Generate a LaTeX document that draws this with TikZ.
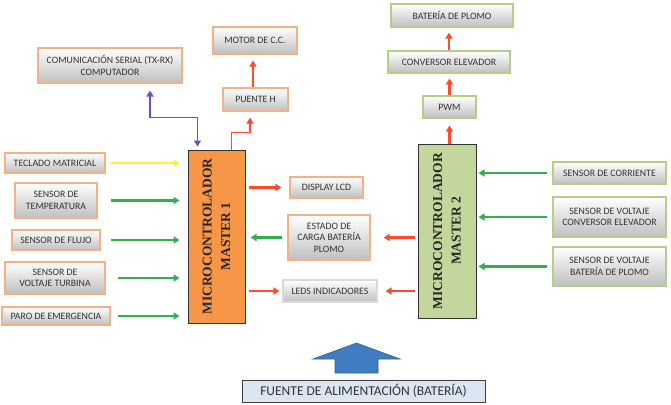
\documentclass[tikz,border=0pt]{standalone}
\usepackage{fontspec}
\setmainfont{Carlito}
\newfontfamily\serifb{Liberation Serif}
\usetikzlibrary{arrows.meta,calc,shadows}
\definecolor{boxtext}{HTML}{333333}
\definecolor{oborder}{HTML}{F4B183}
\definecolor{gborder}{HTML}{B3CF88}
\definecolor{lborder}{HTML}{D9D9D9}
\definecolor{mone}{HTML}{F79646}
\definecolor{mtwo}{HTML}{C3D69B}
\definecolor{redarr}{HTML}{FF4A2E}
\definecolor{greenarr}{HTML}{2FB24C}
\definecolor{yelarr}{HTML}{FFEF3A}
\definecolor{bluearr}{HTML}{6A4FC8}
\definecolor{fuentefill}{HTML}{DCE6F2}
\definecolor{bigblue}{HTML}{3F7CC0}
\tikzset{
  box/.style={rectangle, top color=white, bottom color=black!25, line width=1.1pt,
    text=boxtext, font=\fontsize{9.8}{11.5}\selectfont, align=center, inner sep=1pt,
    drop shadow={shadow xshift=1.2pt, shadow yshift=-1.2pt, opacity=0.35}},
  obox/.style={box, draw=oborder},
  gbox/.style={box, draw=gborder},
  lbox/.style={box, draw=lborder},
  mbox/.style={rectangle, draw=black!80, line width=1pt},
  mtext/.style={font=\serifb\bfseries\fontsize{13.5}{18.5}\selectfont, align=center, rotate=90, text=black!85},
  arr/.style={line width=2.3pt, -{Triangle[length=6pt,width=7pt]}},
  rarr/.style={arr, draw=redarr, color=redarr},
  garr/.style={arr, draw=greenarr, color=greenarr},
  yarr/.style={arr, draw=yelarr, color=yelarr},
  barr/.style={line width=1.6pt, {Triangle[length=6pt,width=7pt]}-{Triangle[length=6pt,width=7pt]}, draw=bluearr, color=bluearr},
}
\begin{document}
\begin{tikzpicture}[x=1pt,y=-1pt]
\useasboundingbox (0,0) rectangle (671,404);
% top left
\node[obox, minimum width=144pt, minimum height=35pt] (com) at (110,65.5) {COMUNICACIÓN SERIAL (TX-RX)\\COMPUTADOR};
\node[obox, minimum width=84pt, minimum height=27pt] (motor) at (255,40.5) {MOTOR DE C.C.};
\node[obox, minimum width=65pt, minimum height=23pt] (puente) at (255.5,99.5) {PUENTE H};
% top right
\node[gbox, minimum width=122pt, minimum height=23pt] (bat) at (452,15.5) {BATERÍA DE PLOMO};
\node[gbox, minimum width=122pt, minimum height=22pt] (conv) at (449,62) {CONVERSOR ELEVADOR};
\node[gbox, minimum width=53pt, minimum height=22pt] (pwm) at (449.5,107) {PWM};
% left sensors
\node[obox, minimum width=100pt, minimum height=20pt] (tec) at (55,163) {TECLADO MATRICIAL};
\node[obox, minimum width=82pt, minimum height=35pt] (temp) at (56,200.5) {SENSOR DE\\TEMPERATURA};
\node[obox, minimum width=88pt, minimum height=20pt] (flujo) at (56,240) {SENSOR DE FLUJO};
\node[obox, minimum width=100pt, minimum height=32pt] (turb) at (55,278) {SENSOR DE\\VOLTAJE TURBINA};
\node[obox, minimum width=108pt, minimum height=18pt] (paro) at (56,316) {PARO DE EMERGENCIA};
% masters
\node[mbox, fill=mone, minimum width=57pt, minimum height=173pt] (m1) at (216.5,236.5) {};
\node[mtext] (m1t) at (m1.center) {MICROCONTROLADOR\\MASTER 1};
\node[mbox, fill=mtwo, minimum width=58pt, minimum height=174pt] (m2) at (447,231) {};
\node[mtext] (m2t) at (m2.center) {MICROCONTROLADOR\\MASTER 2};
% middle
\node[obox, minimum width=73pt, minimum height=21pt] (lcd) at (326.5,187.5) {DISPLAY LCD};
\node[obox, minimum width=82pt, minimum height=45pt] (estado) at (329,237.5) {ESTADO DE\\CARGA BATERÍA\\PLOMO};
\node[lbox, minimum width=94pt, minimum height=22pt] (leds) at (330,291) {LEDS INDICADORES};
% right sensors
\node[gbox, minimum width=113pt, minimum height=22pt] (corr) at (609.5,173) {SENSOR DE CORRIENTE};
\node[gbox, minimum width=113pt, minimum height=40pt] (vconv) at (609.5,217) {SENSOR DE VOLTAJE\\CONVERSOR ELEVADOR};
\node[gbox, minimum width=113pt, minimum height=39pt] (vbat) at (609.5,266.5) {SENSOR DE VOLTAJE\\BATERÍA DE PLOMO};
% fuente
\node[rectangle, draw=black!75, line width=0.9pt, fill=fuentefill, minimum width=243pt, minimum height=22pt,
  font=\fontsize{13.5}{15}\selectfont, text=black!80] (fuente) at (363.5,391) {FUENTE DE ALIMENTACIÓN (BATERÍA)};
\draw[fill=bigblue, draw=bigblue!80!black, line width=0.6pt]
  (356.5,343) -- (400,359) -- (378,359) -- (378,373) -- (335,373) -- (335,359) -- (313,359) -- cycle;
% connectors left
\draw[yarr, shorten <=5pt, shorten >=8pt] (tec.east) -- (tec.east -| m1.west);
\draw[garr, shorten <=13pt, shorten >=8pt] (temp.east) -- (temp.east -| m1.west);
\draw[garr, shorten <=10pt, shorten >=8pt] (flujo.east) -- (flujo.east -| m1.west);
\draw[garr, shorten <=12pt, shorten >=8pt] (turb.east) -- (turb.east -| m1.west);
\draw[garr, shorten <=7pt, shorten >=8pt] (paro.east) -- (paro.east -| m1.west);
% master 1 outputs
\draw[rarr, shorten <=3pt, shorten >=8pt] (lcd.west -| m1.east) -- (lcd.west);
\draw[garr, shorten <=5pt, shorten >=5pt] (estado.west) -- (estado.west -| m1.east);
\draw[rarr, shorten <=3pt, shorten >=3pt] (leds.west -| m1.east) -- (leds.west);
% master 2 outputs
\draw[rarr, shorten <=3pt, shorten >=13pt] (estado.east -| m2.west) -- (estado.east);
\draw[rarr, shorten <=3pt, shorten >=8pt] (leds.east -| m2.west) -- (leds.east);
% right sensors
\draw[garr, shorten <=5pt, shorten >=2pt] (corr.west) -- (corr.west -| m2.east);
\draw[garr, shorten <=5pt, shorten >=2pt] (vconv.west) -- (vconv.west -| m2.east);
\draw[garr, shorten <=5pt, shorten >=2pt] (vbat.west) -- (vbat.west -| m2.east);
% vertical chain right
\draw[rarr, shorten >=7pt] (m2.north -| pwm.south) -- (pwm.south);
\draw[rarr, shorten >=5pt] (pwm.north) -- (pwm.north |- conv.south);
\draw[rarr, shorten >=5pt] (conv.north) -- (bat.south -| conv.north);
% top left
\draw[rarr, shorten >=6pt] ($(puente.north)+(-2.5,0)$) -- ($(motor.south)+(-2,0)$);
\draw[rarr, line width=1.6pt, shorten >=6pt] ($(m1.north west)+(44,0)$) -- ++(0,-17) -| ($(puente.south)+(-5.5,0)$);
\draw[barr, shorten <=3pt, shorten >=7pt] ($(m1.north west)+(10,0)$) -- ++(0,-32) -| ($(com.south)+(40,0)$);
\end{tikzpicture}
\end{document}
